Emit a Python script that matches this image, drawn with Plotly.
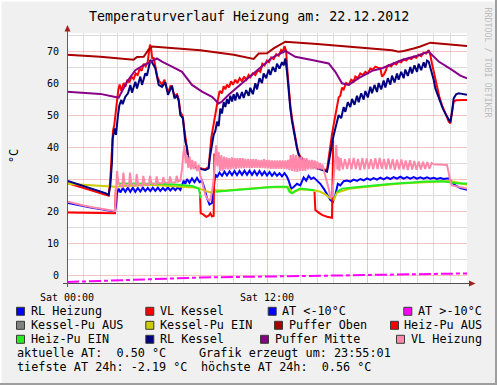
import plotly.graph_objects as go

N = None
# ---------------- data (hours since Sat 00:00, °C) ----------------
RL_KESSEL_H = [0, 0.5, 1, 1.5, 2, 2.3, 2.5, 2.6, 2.7, 2.74, 2.86, 2.94, 3.06, 3.14, 3.26, 3.34, 3.5, 3.66, 3.8, 3.9, 4.1, 4.2, 4.4, 4.5, 4.7, 4.8, 5.0, 5.1, 5.3, 5.5, 5.7, 5.9, 6.06, 6.2, 6.3, 6.45, 6.6, 6.7, 6.8, 6.95, 7.05, 7.1, 7.2, 7.3, 7.45, 7.6, 7.75, 7.9, 8.1, 8.3, 8.5, 8.58, 8.7, 8.8, 8.9, 9.0, 9.1, 9.2, 9.3, 9.4, 9.5, 9.6, 9.7, 9.8, 9.9, 10.0, 10.1, 10.2, 10.35, 10.5, 10.6, 10.75, 10.9, 11.0, 11.15, 11.3, 11.4, 11.55, 11.7, 11.8, 11.95, 12.1, 12.2, 12.35, 12.5, 12.6, 12.75, 12.9, 13.0, 13.1, 13.2, 13.3, 13.4, 13.5, 13.6, 13.7, 13.8, 13.9, 14.0, 14.2, 14.4, 14.6, 14.8, 15.0, 15.2, 15.4, 15.6, 15.7, 15.8, 15.9, 16.0, 16.1, 16.2, 16.3, 16.45, 16.6, 16.7, 16.85, 17.0, 17.1, 17.25, 17.4, 17.5, 17.65, 17.8, 17.9, 18.05, 18.2, 18.3, 18.45, 18.6, 18.7, 18.85, 19.0, 19.1, 19.25, 19.4, 19.5, 19.65, 19.8, 19.9, 20.05, 20.2, 20.3, 20.45, 20.6, 20.7, 20.85, 21.0, 21.1, 21.25, 21.4, 21.5, 21.6, 21.7, 21.8, 21.9, 22.0, 22.1, 22.25, 22.4, 22.55, 22.7, 22.85, 23.0, 23.1, 23.2, 23.35, 23.5, 23.7, 23.85, 24.0]
RL_KESSEL_V = [29.5, 28.7, 27.9, 27.0, 26.2, 25.6, 25.0, 28, 35.4, 42.7, 45.8, 43.8, 50, 53, 54.7, 53.4, 55.7, 56.8, 59.4, 57, 60.4, 58.3, 62, 59.4, 63, 62.3, 67.2, 66.5, 64.6, 59.4, 58.8, 60.2, 56.3, 58.2, 59.2, 55.2, 56, 54.5, 50, 49, 44, 41.7, 39.6, 35, 34.5, 33.9, 33.6, 33.3, 33, 32.8, 33.3, 37, 40.6, 43.8, 45, 47.9, 46.5, 52, 50.5, 54, 52.5, 55, 53.5, 56, 54.2, 56.5, 54.5, 57, 55, 57.2, 55.3, 57.8, 56, 58.5, 56.5, 59.9, 58, 61.5, 60, 63, 61.5, 64.2, 62.5, 65, 63.5, 66, 64.5, 66.5, 65.5, 67.7, 63.5, 57, 52, 48, 44.8, 41.5, 39.6, 37.5, 36.5, 35.5, 35.2, 34.6, 34, 33.3, 33, 32.6, 32.3, 35, 38.5, 41, 43.7, 46, 48, 50, 49, 52.5, 51, 54, 52.5, 55, 53.2, 56, 54, 56.8, 54.8, 57.5, 55.5, 58.8, 56.8, 59.4, 57.2, 60, 58, 60.8, 58.6, 61.5, 59.5, 62.3, 60.2, 63, 61, 63.5, 61.5, 64.2, 62.2, 65, 63, 65.5, 63.5, 66, 64, 66.5, 64.8, 67, 66.7, 65, 63.5, 61, 58.3, 56, 54.2, 52, 50.5, 49, 47.7, 51, 55.2, 56.5, 56.8, 56.6, 56.4, 56.3]

VL_KESSEL_H = [0, 0.5, 1, 1.5, 2, 2.3, 2.5, 2.6, 2.68, 2.76, 2.84, 2.92, 3.0, 3.08, 3.16, 3.26, 3.4, 3.5, 3.62, 3.74, 3.86, 4.0, 4.12, 4.24, 4.36, 4.48, 4.6, 4.72, 4.84, 4.92, 4.98, 5.04, 5.12, 5.2, 5.3, 5.42, 5.55, 5.7, 5.85, 6.0, 6.1, 6.2, 6.3, 6.45, 6.6, 6.7, 6.8, 6.95, 7.05, 7.1, 7.2, 7.3, 7.45, 7.6, 7.75, 7.9, 8.1, 8.3, 8.5, 8.58, 8.66, 8.76, 8.86, 8.96, 9.06, 9.16, 9.3, 9.4, 9.5, 9.6, 9.72, 9.84, 9.96, 10.1, 10.22, 10.36, 10.5, 10.62, 10.76, 10.9, 11.0, 11.15, 11.3, 11.45, 11.6, 11.72, 11.85, 12.0, 12.12, 12.25, 12.4, 12.55, 12.7, 12.85, 12.95, 13.05, 13.15, 13.22, 13.3, 13.4, 13.5, 13.6, 13.7, 13.8, 13.9, 14.0, 14.2, 14.4, 14.6, 14.8, 15.0, 15.2, 15.4, 15.6, 15.7, 15.8, 15.9, 16.0, 16.1, 16.2, 16.3, 16.4, 16.5, 16.6, 16.75, 16.9, 17.05, 17.2, 17.3, 17.45, 17.6, 17.75, 17.9, 18.05, 18.2, 18.35, 18.5, 18.65, 18.8, 18.9, 19.0, 19.1, 19.2, 19.3, 19.45, 19.6, 19.75, 19.9, 20.05, 20.2, 20.35, 20.5, 20.65, 20.8, 20.95, 21.1, 21.25, 21.4, 21.55, 21.7, 21.8, 21.9, 22.0, 22.1, 22.2, 22.35, 22.5, 22.65, 22.8, 22.9, 23.0, 23.1, 23.2, 23.35, 23.5, 23.75, 24.0]
VL_KESSEL_V = [28.8, 28.0, 27.2, 26.5, 25.8, 25.3, 24.8, 30, 40, 45, 47, 51, 54, 58, 59.5, 57.5, 60, 58.8, 61, 60.2, 62, 61.2, 63, 62.5, 64.5, 63.8, 66, 65.2, 66.5, 70, 72, 71, 67.5, 68, 65, 62, 60.5, 59.5, 61, 58, 57.5, 59, 58.5, 56, 56.5, 55, 51, 49.5, 45, 43, 40, 36, 35, 34.3, 33.8, 33.5, 33.2, 33, 33.8, 39, 43, 46, 49, 53, 55, 57.5, 56.8, 59, 58, 59.5, 58.6, 60.5, 59.5, 61, 60, 61.5, 60.5, 62, 61, 62.5, 61.8, 63, 62.5, 64, 63.5, 66, 65.5, 67, 66.5, 68, 67.5, 69, 68.5, 70.3, 69.8, 71.5, 70, 64, 58, 53, 49, 45.5, 42, 40, 38, 37, 36, 35.5, 35, 34.5, 33.8, 33.3, 33, 32.8, 37, 41, 44, 47, 50, 53, 55.5, 56, 58.5, 58, 60, 59.5, 61, 60.5, 62, 61.5, 63, 62.5, 63.5, 63, 64.5, 64.2, 65.1, 64.8, 64.6, 62, 62.5, 63.5, 65, 65.6, 65.2, 66.2, 65.8, 66.8, 66.5, 67.4, 67, 67.8, 67.5, 68.2, 67.9, 68.8, 68.4, 69.5, 69.2, 70.3, 68.8, 66, 63.5, 61, 58.3, 55.5, 53.1, 51, 49.5, 48, 47.4, 50.5, 54.2, 54.6, 54.7, 54.7, 54.7]

PUFFER_OBEN_H = [0, 2, 4.0, 4.2, 4.6, 4.9, 5.1, 6, 8, 10, 11.2, 11.5, 12.0, 12.4, 13.0, 13.1, 15, 17, 18.3, 19.5, 19.9, 20.2, 20.8, 21.2, 21.8, 23, 24]
PUFFER_OBEN_V = [68.8, 68.2, 67.3, 68.1, 68.2, 70.5, 71.4, 71.0, 70.2, 68.8, 67.5, 69.2, 69.3, 70.8, 72.5, 72.9, 72.2, 71.4, 70.8, 70.2, 69.8, 70.0, 70.8, 71.4, 72.6, 72.1, 71.6]

PUFFER_MITTE_H = [0, 1, 2, 2.9, 3.1, 3.6, 4.1, 4.6, 5.0, 5.4, 5.7, 6.3, 6.9, 7.5, 8.1, 8.7, 9.1, 9.3, 9.7, 10.5, 11.3, 11.9, 12.3, 13.1, 13.7, 14.7, 15.4, 15.7, 16.1, 16.5, 16.9, 17.5, 18.3, 18.9, 20.1, 21.0, 21.7, 22.3, 23.1, 23.6, 24]
PUFFER_MITTE_V = [57.3, 57.0, 56.6, 55.6, 55.4, 60.4, 64.0, 65.6, 66.5, 67.7, 66.7, 65.1, 63.5, 59.4, 57.3, 55.7, 53.6, 54.2, 56.3, 59.9, 63.5, 66.1, 67.9, 70.0, 68.2, 67.2, 66.5, 66.1, 63.5, 59.9, 59.4, 61.5, 63.8, 64.6, 67.2, 68.5, 69.8, 66.7, 64.1, 62.3, 61.5]

VL_HEIZUNG_H = [0, 0.5, 1, 1.5, 2, 2.5, 2.88, 2.95, 3.0, 3.08, 3.2, 3.32, 3.38, 3.46, 3.6, 3.72, 3.78, 3.86, 4.0, 4.12, 4.18, 4.26, 4.4, 4.52, 4.58, 4.66, 4.8, 4.92, 4.98, 5.06, 5.2, 5.32, 5.38, 5.46, 5.6, 5.72, 5.78, 5.86, 6.0, 6.12, 6.18, 6.26, 6.4, 6.52, 6.58, 6.66, 6.8, 6.9, 6.98, 7.05, 7.12, 7.2, 7.28, 7.36, 7.44, 7.52, 7.6, 7.7, 7.8, 7.9, 8.0, 8.1, 8.2, 8.3, 8.4, 8.5, 8.6, 8.7, 8.8, 8.88, 8.95, 9.02, 9.1, 9.18, 9.26, 9.34, 9.42, 9.5, 9.58, 9.66, 9.74, 9.82, 9.9, 9.98, 10.06, 10.14, 10.22, 10.3, 10.38, 10.46, 10.54, 10.62, 10.7, 10.78, 10.86, 10.94, 11.02, 11.1, 11.18, 11.26, 11.34, 11.42, 11.5, 11.58, 11.66, 11.74, 11.82, 11.9, 11.98, 12.06, 12.14, 12.22, 12.3, 12.38, 12.46, 12.54, 12.62, 12.7, 12.78, 12.86, 12.94, 13.02, 13.1, 13.18, 13.26, 13.34, 13.42, 13.5, 13.58, 13.66, 13.74, 13.82, 13.9, 13.98, 14.06, 14.14, 14.22, 14.3, 14.38, 14.46, 14.54, 14.62, 14.7, 14.78, 14.86, 14.94, 15.02, 15.1, 15.18, 15.26, 15.34, 15.42, 15.5, 15.6, 15.7, 15.8, 15.86, 15.92, 16.0, 16.08, 16.16, 16.22, 16.28, 16.34, 16.42, 16.55, 16.68, 16.81, 16.94, 17.07, 17.2, 17.33, 17.46, 17.59, 17.72, 17.85, 17.98, 18.11, 18.24, 18.37, 18.5, 18.63, 18.76, 18.89, 19.02, 19.15, 19.28, 19.41, 19.54, 19.67, 19.8, 19.93, 20.06, 20.19, 20.32, 20.45, 20.58, 20.71, 20.84, 20.97, 21.1, 21.23, 21.36, 21.49, 21.62, 21.75, 21.88, 22.0, 22.4, 22.8, 22.9, 23.0, 23.1, 23.5, 24.0]
VL_HEIZUNG_V = [23.0, 22.3, 21.7, 21.2, 20.8, 20.3, 20.0, 27, 32.5, 29, 27.8, 27.6, 32, 28.5, 27.8, 27.7, 32, 28.5, 28, 27.9, 31.5, 28.5, 28, 28, 31, 28.6, 28.2, 28.2, 31, 28.7, 28.4, 28.4, 30.8, 28.8, 28.6, 28.6, 30.6, 29, 28.8, 28.8, 30.8, 29, 28.9, 29, 31, 29.2, 29.5, 33, 38, 40.5, 35, 37.5, 33.5, 37, 33, 36, 33, 35.5, 32.5, 34.5, 31, 29.5, 27, 25, 24, 23.3, 23.5, 26, 30, 35, 40.5, 34, 38.5, 32.5, 37.5, 32.5, 37, 33, 36.8, 33, 36.5, 33, 36.8, 33.2, 36.5, 33.2, 36.5, 33.3, 36.5, 33.3, 36.5, 33.4, 36.3, 33.4, 36.3, 33.4, 36.2, 33.5, 36.2, 33.5, 36.2, 33.5, 36, 33.5, 36, 33.4, 36.2, 33.3, 36, 33.3, 36, 33.2, 35.8, 33.2, 35.8, 33.2, 35.8, 33.2, 35.8, 33.2, 35.8, 33.2, 35.8, 33, 36, 32.8, 37.5, 32.5, 37.8, 32.3, 37.5, 32.2, 37, 32.5, 37, 32.5, 36.5, 32.5, 36.5, 33, 36, 33, 36, 33, 35.8, 33, 35.5, 33, 35, 33, 34.5, 32.5, 31, 29.2, 27, 24.5, 24, 25, 30, 36, 40.6, 33, 37, 32.5, 36.5, 33, 36.2, 33.2, 36.4, 33, 36.6, 33.1, 36.3, 32.8, 36.5, 33, 36.4, 33.2, 36.2, 33, 36.5, 33.1, 36.6, 33.2, 36.3, 33, 36.4, 33.1, 36.2, 32.9, 36, 33, 36.1, 33, 35.8, 32.8, 35.9, 33, 35.6, 32.9, 35.5, 33, 35.4, 33.1, 35.3, 33.2, 35, 34.6, 34.4, 34.4, 32, 29, 28, 27.5, 27.0]

RL_HEIZUNG_H = [0, 0.5, 1, 1.5, 2, 2.5, 2.88, 2.95, 3.0, 3.1, 3.2, 3.35, 3.5, 3.65, 3.8, 3.95, 4.1, 4.25, 4.4, 4.55, 4.7, 4.85, 5.0, 5.15, 5.3, 5.45, 5.6, 5.75, 5.9, 6.05, 6.2, 6.35, 6.5, 6.65, 6.8, 6.9, 7.0, 7.1, 7.2, 7.35, 7.5, 7.65, 7.8, 7.95, 8.1, 8.25, 8.4, 8.55, 8.7, 8.8, 8.9, 9.0, 9.15, 9.3, 9.45, 9.6, 9.75, 9.9, 10.05, 10.2, 10.35, 10.5, 10.65, 10.8, 10.95, 11.1, 11.25, 11.4, 11.55, 11.7, 11.85, 12.0, 12.15, 12.3, 12.45, 12.6, 12.75, 12.9, 13.05, 13.2, 13.3, 13.45, 13.6, 13.8, 14.0, 14.2, 14.35, 14.5, 14.65, 14.8, 15.0, 15.2, 15.4, 15.6, 15.8, 15.95, 16.1, 16.25, 16.4, 16.6, 16.8, 17.0, 17.2, 17.4, 17.6, 17.8, 18.0, 18.2, 18.4, 18.6, 18.8, 19.0, 19.2, 19.4, 19.6, 19.8, 20.0, 20.2, 20.4, 20.6, 20.8, 21.0, 21.2, 21.4, 21.6, 21.8, 22.0, 22.2, 22.4, 22.6, 22.9, 23.1, 23.3, 23.6, 24.0]
RL_HEIZUNG_V = [22.6, 22.0, 21.4, 21.0, 20.6, 20.1, 19.8, 22, 25.5, 27, 25.8, 27.2, 26, 27.3, 26, 27.3, 26, 27.2, 26.1, 27.3, 26.2, 27.2, 26.2, 27.3, 26.3, 27.3, 26.3, 27.2, 26.4, 27.3, 26.4, 27.3, 26.5, 27.4, 26.6, 28, 29.5, 28.5, 30, 28.8, 30.2, 29, 30.3, 29, 29.5, 27, 24, 22, 22.5, 27, 31.5, 30.5, 32, 31, 32.3, 31.1, 32.4, 31.2, 32.5, 31.2, 32.5, 31.3, 32.6, 31.3, 32.6, 31.3, 32.5, 31.2, 32.5, 31.2, 32.3, 31.1, 32.2, 31, 32, 31, 31.8, 30.8, 31.8, 30.7, 29.5, 27, 27.5, 28.5, 28, 30.5, 29.5, 31, 30, 30.5, 29.5, 28.5, 27, 25, 23.5, 22.8, 25, 28.5, 28, 29.3, 29.5, 29.2, 29.8, 29.4, 30, 29.6, 30.2, 29.7, 30.3, 29.8, 30.4, 29.9, 30.5, 30, 30.6, 30.1, 30.7, 30.1, 30.6, 30.1, 30.6, 30.1, 30.5, 30.1, 30.5, 30.1, 30.4, 30.0, 30.3, 30.0, 30.2, 29, 28, 27.2, 26.6]

KESSEL_PU_EIN_H = [0, 1, 2, 2.9, 3.5, 5, 7.8, 8.0, 8.3, 8.6, 8.9, 9.5, 12, 13.3, 13.5, 14.0, 14.9, 15.2, 15.5, 15.8, 16.0, 16.2, 17, 20, 22, 23, 23.5, 24]
KESSEL_PU_EIN_V = [28.5, 28.2, 27.9, 27.6, 27.8, 28.2, 27.3, 26.8, 26.3, 25.8, 26.5, 26.4, 27.4, 27.4, 25.6, 26.8, 26.4, 26.0, 25.2, 24.0, 23.5, 25.8, 27.0, 28.6, 29.2, 29.4, 28.8, 28.2]

HEIZ_PU_EIN_H = [3.0, 4.0, 5.5, 6.5, 7.5, 7.9, 8.03, 8.05, 8.9, 9.5, 10.5, 11.5, 12.5, 13.2, 13.35, 13.5, 13.7, 14.0, 14.5, 14.85, 14.9, 16.2, 16.5, 17.5, 18.5, 19.5, 20.5, 21.5, 22.5, 23.0, 23.5, 24.0]
HEIZ_PU_EIN_V = [28.6, 28.6, 28.5, 28.3, 27.8, 27.0, 24.0, N, 26.0, 26.3, 26.8, 27.2, 27.6, 27.6, 26.0, 25.5, 26.3, 27.0, 26.8, 26.5, N, 26.0, 27.0, 27.5, 28.1, 28.5, 28.8, 29.2, 29.3, 29.0, 28.6, 28.6]

HEIZ_PU_AUS_H = [0, 1, 2, 2.88, 2.93, 2.95, 7.98, 8.02, 8.15, 8.35, 8.5, 8.6, 8.7, 8.8, 8.84, 8.86, 14.85, 14.9, 15.1, 15.3, 15.6, 15.9, 15.97, 16.0]
HEIZ_PU_AUS_V = [19.5, 19.4, 19.4, 19.3, 27, N, 26, 19.3, 19.0, 18.2, 18.5, 19.3, 18.3, 18.5, 38, N, 26, 20.3, 19.5, 18.8, 18.2, 17.9, 42, N]

AT_H = [0, 1, 2, 3, 4, 5, 6, 7, 8, 9, 10, 11, 12, 13, 14, 15, 16, 17, 18, 19, 20, 21, 22, 23, 24]
AT_V = [-2.19, -2.0, -1.8, -1.6, -1.4, -1.2, -1.0, -0.9, -0.8, -0.7, -0.65, -0.55, -0.5, -0.45, -0.35, -0.2, -0.15, -0.1, 0.0, 0.05, 0.1, 0.2, 0.3, 0.4, 0.5]

X_TICKS = {"0": "Sat 00:00", "6": " ", "12": "Sat 12:00", "18": " ", "24": " "}

LEGEND_LABELS = [["RL Heizung", "VL Kessel", "AT <-10°C", "AT >-10°C"],
                 ["Kessel-Pu AUS", "Kessel-Pu EIN", "Puffer Oben", "Heiz-Pu AUS"],
                 ["Heiz-Pu EIN", "RL Kessel", "Puffer Mitte", "VL Heizung"]]
LEGEND_COLORS = [["#0000FF", "#FF0000", "#0000FF", "#FF00FF"],
                 ["#808080", "#CCCC00", "#AA0000", "#FF0000"],
                 ["#22EE22", "#000080", "#880088", "#FF88AA"]]

TITLE = "Temperaturverlauf Heizung am: 22.12.2012"
INFO_LINES = [("aktuelle AT:\u00a0 0.50 °C", "Grafik erzeugt um: 23:55:01"),
              ("tiefste AT 24h: -2.19 °C", "höchste AT 24h:\u00a0 0.56 °C")]

# ---------------- figure ----------------
W, H = 497, 385
L, R, T, B = 67, 30, 33, 102
PW, PH = W - L - R, H - T - B
MONO = "DejaVu Sans Mono"
TXT = 11.8


def PX(x):
    return (x - L) / PW


def PY(y):
    return (H - B - y) / PH


fig = go.Figure()

def add(h, v, color, dash=None, width=2):
    fig.add_trace(go.Scatter(x=h, y=v, mode="lines", connectgaps=False,
                             line=dict(color=color, width=width, dash=dash),
                             hoverinfo="skip"))

# draw order as in rrdtool definition
add(RL_HEIZUNG_H, RL_HEIZUNG_V, "#0000FF")
add(VL_KESSEL_H, VL_KESSEL_V, "#FF0000")
add(AT_H, AT_V, "#FF00FF", dash="12px,3px,4px,3px")
add(KESSEL_PU_EIN_H, KESSEL_PU_EIN_V, "#CCCC00")
add(PUFFER_OBEN_H, PUFFER_OBEN_V, "#AA0000")
add(HEIZ_PU_AUS_H, HEIZ_PU_AUS_V, "#FF0000")
add(HEIZ_PU_EIN_H, HEIZ_PU_EIN_V, "#22EE22")
add(RL_KESSEL_H, RL_KESSEL_V, "#000080")
add(PUFFER_MITTE_H, PUFFER_MITTE_V, "#880088")
add(VL_HEIZUNG_H, VL_HEIZUNG_V, "#FF88AA")

MAJOR = "rgba(235,80,80,0.35)"
MINOR = "#DDDDDD"
fig.update_layout(
    width=W, height=H, margin=dict(l=L, r=R, t=T, b=B, pad=0),
    paper_bgcolor="#F0F0F0", plot_bgcolor="#FFFFFF", showlegend=False,
    hovermode=False,
    xaxis=dict(range=[0, 24], tickmode="linear", tick0=0, dtick=6,
               labelalias=X_TICKS, showgrid=True, gridcolor=MAJOR, gridwidth=1,
               minor=dict(tick0=0, dtick=1, showgrid=True, gridcolor=MINOR, gridwidth=1),
               ticks="outside", ticklen=5, tickcolor="rgba(0,0,0,0)",
               tickfont=dict(family=MONO, size=10, color="#000000"),
               zeroline=False, showline=False, fixedrange=True),
    yaxis=dict(range=[-2.5, 75.625], tickmode="linear", tick0=0, dtick=10,
               showgrid=True, gridcolor=MAJOR, gridwidth=1,
               minor=dict(tick0=0, dtick=5, showgrid=True, gridcolor=MINOR, gridwidth=1),
               ticks="outside", ticklen=5, tickcolor="rgba(0,0,0,0)",
               tickfont=dict(family=MONO, size=10, color="#000000"),
               zeroline=False, showline=False, fixedrange=True),
)

shapes = []
# frame shading
shapes.append(dict(type="rect", xref="paper", yref="paper", x0=PX(0), x1=PX(W), y0=PY(0), y1=PY(1.5),
                   fillcolor="#FFFFFF", line=dict(width=0)))
shapes.append(dict(type="rect", xref="paper", yref="paper", x0=PX(0), x1=PX(1.5), y0=PY(H), y1=PY(0),
                   fillcolor="#FFFFFF", line=dict(width=0)))
shapes.append(dict(type="rect", xref="paper", yref="paper", x0=PX(W - 2), x1=PX(W), y0=PY(H), y1=PY(0),
                   fillcolor="#9E9E9E", line=dict(width=0)))
shapes.append(dict(type="rect", xref="paper", yref="paper", x0=PX(0), x1=PX(W), y0=PY(H), y1=PY(H - 2),
                   fillcolor="#9E9E9E", line=dict(width=0)))
# axes
shapes.append(dict(type="line", xref="paper", yref="paper", x0=PX(63), x1=PX(470), y0=PY(283.5), y1=PY(283.5),
                   line=dict(color="#505050", width=1)))
shapes.append(dict(type="line", xref="paper", yref="paper", x0=PX(67.5), x1=PX(67.5), y0=PY(287), y1=PY(30),
                   line=dict(color="#A04040", width=1)))
# arrows
def tri(pts, color):
    d = "M " + " L ".join(f"{PX(a):.5f},{PY(b):.5f}" for a, b in pts) + " Z"
    return dict(type="path", xref="paper", yref="paper", path=d, fillcolor=color, line=dict(width=0))

shapes.append(tri([(67.5, 25), (64.5, 31.5), (70.5, 31.5)], "#A02020"))
shapes.append(tri([(475.5, 283.5), (469, 280.5), (469, 286.5)], "#A02020"))

annotations = []
annotations.append(dict(text=TITLE, xref="paper", yref="paper", x=PX(249), y=PY(16.5),
                        xanchor="center", yanchor="middle", showarrow=False,
                        font=dict(family=MONO, size=13.3, color="#000000")))
annotations.append(dict(text="°C", xref="paper", yref="paper", x=PX(14), y=PY(156),
                        xanchor="center", yanchor="middle", showarrow=False, textangle=-90,
                        font=dict(family=MONO, size=TXT, color="#000000")))
annotations.append(dict(text="RRDTOOL / TOBI OETIKER", xref="paper", yref="paper", x=PX(487.5), y=PY(62),
                        xanchor="center", yanchor="middle", showarrow=False, textangle=90,
                        font=dict(family=MONO, size=8.3, color="#BDBDBD")))

# legend layout (rrdtool justifies each row separately)
BOX_X = [[16, 145.3, 267.7, 403.3],
         [16, 145.3, 274, 390],
         [16, 145.3, 260, 396]]
TXT_X = [[30, 159.3, 281, 416.7],
         [30, 159.3, 288.3, 403.3],
         [30, 159.3, 274, 410]]
ROW_Y = [311.3, 325.3, 339.3]
for r, row in enumerate(LEGEND_LABELS):
    for c, lab in enumerate(row):
        bx, cy = BOX_X[r][c], ROW_Y[r]
        shapes.append(dict(type="rect", xref="paper", yref="paper",
                           x0=PX(bx + 0.5), x1=PX(bx + 8.5), y0=PY(cy + 4), y1=PY(cy - 4),
                           fillcolor=LEGEND_COLORS[r][c], line=dict(color="#3A3A3A", width=1)))
        annotations.append(dict(text=lab, xref="paper", yref="paper", x=PX(TXT_X[r][c] - 1), y=PY(cy),
                                xanchor="left", yanchor="middle", showarrow=False,
                                font=dict(family=MONO, size=TXT, color="#000000")))

INFO_Y = [353, 367]
INFO_X2 = [198, 200]
for i, (a, b) in enumerate(INFO_LINES):
    annotations.append(dict(text=a, xref="paper", yref="paper", x=PX(15), y=PY(INFO_Y[i]),
                            xanchor="left", yanchor="middle", showarrow=False,
                            font=dict(family=MONO, size=TXT, color="#000000")))
    annotations.append(dict(text=b, xref="paper", yref="paper", x=PX(INFO_X2[i] - 1), y=PY(INFO_Y[i]),
                            xanchor="left", yanchor="middle", showarrow=False,
                            font=dict(family=MONO, size=TXT, color="#000000")))

fig.update_layout(shapes=shapes, annotations=annotations)
fig.write_html("out.html", config={"displayModeBar": False, "staticPlot": True},
               post_script="document.body.style.margin='0';document.body.style.overflow='hidden';")
